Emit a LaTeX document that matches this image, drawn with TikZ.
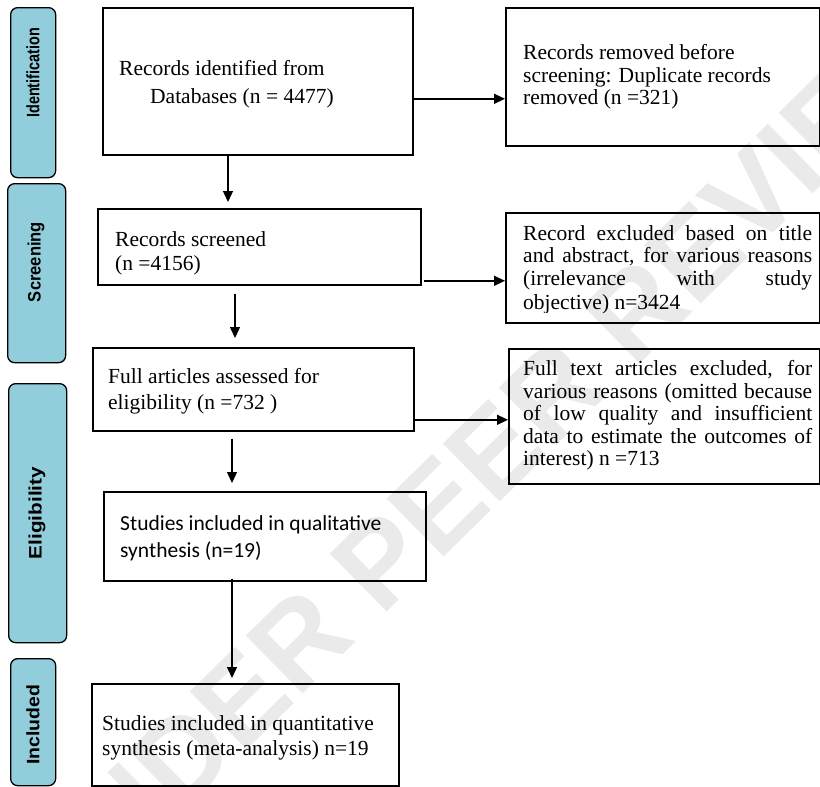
\documentclass[tikz,border=0pt]{standalone}
\usepackage{fontspec}
\setmainfont{Liberation Serif}
\newfontfamily\phasefont{Liberation Sans}
\newfontfamily\calfont{Carlito}
\usetikzlibrary{arrows.meta,calc}
\definecolor{phasefill}{RGB}{146,205,220}
\definecolor{wmgray}{RGB}{234,234,234}
\newcommand{\jline}[1]{\makebox[289pt][s]{#1}}
\begin{document}
\begin{tikzpicture}[x=1pt,y=-1pt,
  box/.style={draw=black, line width=1.6pt, inner sep=0pt, anchor=north west},
  phase/.style={draw=black, line width=1.3pt, fill=phasefill, rounded corners=7pt, inner sep=0pt, anchor=north west},
  plabel/.style={rotate=90, inner sep=0pt, font=\phasefont\bfseries\fontsize{18}{18}\selectfont},
  tl/.style={anchor=base west, inner sep=0pt, font=\fontsize{21.5}{22.5}\selectfont},
  cl/.style={anchor=base west, inner sep=0pt, font=\calfont\fontsize{21.5}{26}\selectfont},
  arr/.style={-{Triangle[length=11pt,width=10pt]}, line width=1.4pt}
]
\useasboundingbox (0,0) rectangle (820,787);
% watermark
\begin{scope}
\clip (0,0) rectangle (820,787);
\node[rotate=44.5, text=wmgray, inner sep=0pt, font=\phasefont\bfseries\fontsize{118}{118}\selectfont] (wm) at (485,460) {UNDER PEER REVIEW};
\end{scope}
% phase boxes
\node[phase, minimum width=45pt, minimum height=170pt] (pid) at (10,7) {};
\node[phase, minimum width=58pt, minimum height=179pt] (psc) at (7,183) {};
\node[phase, minimum width=58pt, minimum height=259pt] (pel) at (8,383) {};
\node[phase, minimum width=45pt, minimum height=127pt] (pin) at (10,658) {};
\node[plabel] (lid) at (33,73) {\scalebox{0.8}[1]{Identification}};
\node[plabel] (lsc) at (36,262) {\scalebox{0.92}[1]{Screening}};
\node[plabel] (lel) at (37,513) {\scalebox{1.15}[1]{Eligibility}};
\node[plabel] (lin) at (33,725) {\scalebox{1.08}[1]{Included}};
% main boxes
\node[box, minimum width=310pt, minimum height=147pt] (b1) at (102,7) {};
\node[box, minimum width=314pt, minimum height=138pt] (b2) at (505,7) {};
\node[box, minimum width=323pt, minimum height=76pt] (b3) at (97,208) {};
\node[box, minimum width=314pt, minimum height=110pt] (b4) at (505,212) {};
\node[box, minimum width=321pt, minimum height=83pt] (b5) at (92,347) {};
\node[box, minimum width=311pt, minimum height=135pt] (b6) at (508,348) {};
\node[box, minimum width=322pt, minimum height=89pt] (b7) at (103,491) {};
\node[box, minimum width=307pt, minimum height=102pt] (b8) at (91,683) {};
% texts
\node[tl] (t1a) at (119,75) {Records identified from};
\node[tl] (t1b) at (150,103) {Databases (n = 4477)};
\node[tl] (t2a) at (523,59) {Records removed before};
\node[tl] (t2b) at (523,82) {screening: Duplicate records};
\node[tl] (t2c) at (523,104) {removed (n =321)};
\node[tl] (t3a) at (115,246) {Records screened};
\node[tl] (t3b) at (115,270) {(n =4156)};
\node[tl] (t4a) at (523,240) {\jline{Record excluded based on title}};
\node[tl] (t4b) at (523,262) {\jline{and abstract, for various reasons}};
\node[tl] (t4c) at (523,285) {\jline{(irrelevance with study}};
\begin{scope}
\clip (505,212) rectangle (819,312);
\node[tl] (t4d) at (523,309) {objective) n=3424};
\end{scope}
\node[tl] (t5a) at (108,383) {Full articles assessed for};
\node[tl] (t5b) at (108,409) {eligibility (n =732 )};
\node[tl] (t6a) at (523,375) {\jline{Full text articles excluded, for}};
\node[tl] (t6b) at (523,398) {\jline{various reasons (omitted because}};
\node[tl] (t6c) at (523,420) {\jline{of low quality and insufficient}};
\node[tl] (t6d) at (523,443) {\jline{data to estimate the outcomes of}};
\node[tl] (t6e) at (523,465) {interest) n =713};
\node[cl] (t7a) at (120,530) {Studies included in qualitative};
\node[cl] (t7b) at (120,557) {synthesis (n=19)};
\node[tl] (t8a) at (102,730) {Studies included in quantitative};
\node[tl] (t8b) at (102,755) {synthesis (meta-analysis) n=19};
% connectors
\draw[arr] ([yshift=-17.5pt]b1.east) -- ([yshift=-17.5pt]b1.east -| b2.west);
\draw[arr] ([xshift=2pt,yshift=-34pt]b3.east) -- ([yshift=-34pt]b3.east -| b4.west);
\draw[arr] ([yshift=-30.5pt]b5.east) -- ([yshift=-30.5pt]b5.east -| b6.west);
\coordinate (x1) at (228,0);
\coordinate (x2) at (235,0);
\coordinate (x3) at (232,0);
\draw[arr, shorten >=6pt] (b1.south -| x1) -- (b3.north -| x1);
\draw[arr, shorten <=8pt, shorten >=9pt] (b3.south -| x2) -- (b5.north -| x2);
\draw[arr, shorten <=7pt, shorten >=8pt] (b5.south -| x3) -- (b7.north -| x3);
\draw[arr, shorten <=-3pt, shorten >=5pt] (b7.south -| x3) -- (b8.north -| x3);
\end{tikzpicture}
\end{document}
